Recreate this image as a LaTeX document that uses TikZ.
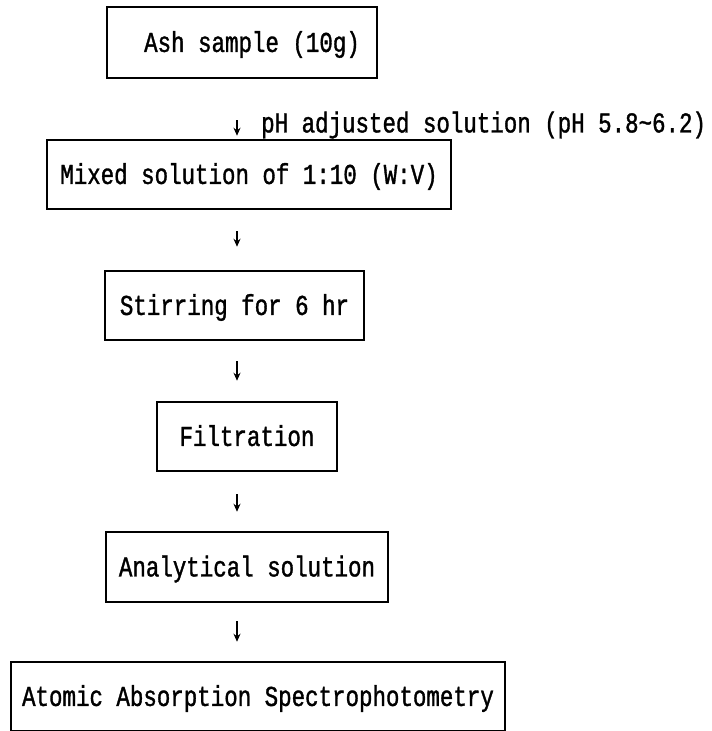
\documentclass[tikz,border=0pt]{standalone}
\usepackage{fontspec}
\setmonofont{Liberation Mono}[FakeStretch=0.78,FakeBold=1.2]
\usetikzlibrary{arrows.meta}
\tikzset{
  procbox/.style={draw, line width=2.5pt, rectangle, inner sep=0pt,
    font=\ttfamily\fontsize{28.8}{34}\selectfont, text height=18.9pt, text depth=0pt},
  lbl/.style={inner sep=0pt, font=\ttfamily\fontsize{28.8}{34}\selectfont,
    text height=18.9pt, text depth=0pt},
  flow/.style={line width=1.8pt, -{Stealth[length=8pt,width=7pt]},
    shorten <=20pt, shorten >=20pt}
}
\begin{document}
\begin{tikzpicture}[x=1pt,y=-1pt]
\useasboundingbox (0,0) rectangle (712,731);
\coordinate (ax) at (237,0);
\node[procbox, minimum width=270pt, minimum height=71pt] (ash) at (242,42.5) {\hspace{20pt}Ash sample (10g)};
\node[procbox, minimum width=404pt, minimum height=69pt] (mix) at (249,174.5) {Mixed solution of 1:10 (W:V)\hspace{14pt}};
\node[procbox, minimum width=259pt, minimum height=69pt] (stir) at (234.5,305.5) {Stirring for 6 hr};
\node[procbox, minimum width=180pt, minimum height=69pt] (filt) at (247,436.5) {Filtration};
\node[procbox, minimum width=282pt, minimum height=70pt] (anal) at (247,567) {Analytical solution};
\node[procbox, minimum width=494pt, minimum height=69pt] (atom) at (258,696.5) {Atomic Absorption Spectrophotometry\hspace{10pt}};
\node[lbl, anchor=west] (lab) at (261,123) {pH adjusted solution (pH 5.8\textasciitilde6.2)};
\draw[flow, shorten <=41pt, shorten >=3pt] (ash.south -| ax) -- (mix.north -| ax);
\draw[flow, shorten <=21pt, shorten >=23pt] (mix.south -| ax) -- (stir.north -| ax);
\draw[flow] (stir.south -| ax) -- (filt.north -| ax);
\draw[flow, shorten <=22pt, shorten >=19pt] (filt.south -| ax) -- (anal.north -| ax);
\draw[flow, shorten <=18pt, shorten >=19pt] (anal.south -| ax) -- (atom.north -| ax);
\end{tikzpicture}
\end{document}
